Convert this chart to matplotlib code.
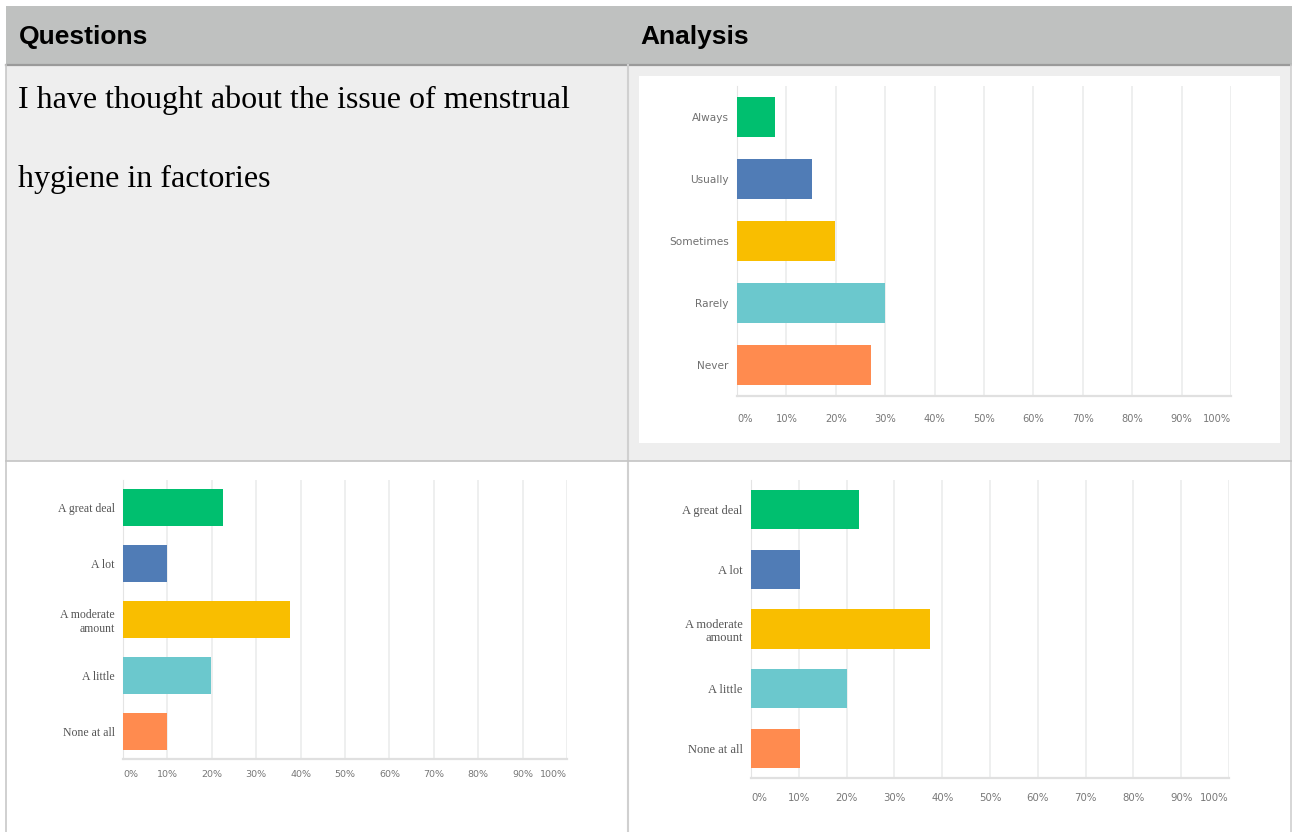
import matplotlib
matplotlib.use("Agg")
import matplotlib.pyplot as plt
from matplotlib.patches import Rectangle

# Survey data (percent of respondents)
freq_labels = ["Always", "Usually", "Sometimes", "Rarely", "Never"]
freq_values = [7.6, 15.2, 19.8, 29.9, 27.2]

amount_labels = ["A great deal", "A lot", "A moderate\namount", "A little", "None at all"]
amount_values_left = [22.5, 9.9, 37.6, 19.8, 9.9]
amount_values_right = [22.5, 10.2, 37.5, 20.0, 10.2]

bar_colors = ["#00BF6F", "#507CB6", "#F9BE00", "#6BC8CD", "#FF8B4F"]
tick_values = list(range(0, 101, 10))
tick_labels = [f"{t}%" for t in tick_values]

W, H = 1292, 832
fig = plt.figure(figsize=(W / 100, H / 100), dpi=100)
fig.patch.set_facecolor("white")

# background "table" drawn in pixel coordinates
bg = fig.add_axes([0, 0, 1, 1])
bg.set_xlim(0, W)
bg.set_ylim(H, 0)
bg.axis("off")

bg.add_patch(Rectangle((6, 6), W - 6, 58, facecolor="#BFC1C0", edgecolor="none"))
bg.add_patch(Rectangle((6, 65), W - 7, 396, facecolor="#EEEEEE", edgecolor="none"))
bg.add_patch(Rectangle((639, 76), 641, 367, facecolor="white", edgecolor="none"))
bg.plot([6, W], [64.5, 64.5], color="#9A9A9A", lw=1.6)
bg.plot([6, 6], [65, H], color="#C8C8C8", lw=1.2)
bg.plot([628, 628], [65, H], color="#D0D0D0", lw=1.5)
bg.plot([1290.5, 1290.5], [65, H], color="#D0D0D0", lw=1.2)
bg.plot([6, W], [461, 461], color="#C4C4C4", lw=1.2)

bg.text(19, 44, "Questions", fontsize=19, fontweight="bold", family="Liberation Sans",
        va="baseline", ha="left", color="black")
bg.text(640, 44, "Analysis", fontsize=19, fontweight="bold", family="Liberation Sans",
        va="baseline", ha="left", color="black")
bg.text(18, 108, "I have thought about the issue of menstrual", fontsize=23,
        family="Liberation Serif", va="baseline", ha="left", color="black")
bg.text(18, 187, "hygiene in factories", fontsize=23,
        family="Liberation Serif", va="baseline", ha="left", color="black")


def px_axes(x0, x1, y0, y1):
    return fig.add_axes([x0 / W, 1 - y1 / H, (x1 - x0) / W, (y1 - y0) / H])


def bar_chart(ax, labels, values, ylab_size, ylab_family, ylab_color, xlab_size, xpad):
    ax.set_facecolor("none")
    ax.barh(range(len(values)), values, height=0.66, color=bar_colors, zorder=3)
    ax.set_xlim(0, 100)
    ax.set_ylim(len(values) - 0.5, -0.5)
    ax.set_xticks(tick_values)
    ax.set_xticklabels(tick_labels, fontsize=xlab_size, color="#777777")
    lbls = ax.get_xticklabels()
    lbls[0].set_ha("left")
    lbls[-1].set_ha("right")
    ax.set_yticks(range(len(labels)))
    ax.set_yticklabels(labels, fontsize=ylab_size, family=ylab_family, color=ylab_color)
    ax.tick_params(axis="x", length=0, pad=xpad)
    ax.tick_params(axis="y", length=0, pad=6)
    ax.grid(axis="x", color="#EEEFEF", lw=1.4, zorder=0)
    for s in ["top", "right"]:
        ax.spines[s].set_visible(False)
    ax.spines["left"].set_color("#E4E4E4")
    ax.spines["bottom"].set_color("#E0E0E0")
    ax.spines["bottom"].set_linewidth(1.6)


ax1 = px_axes(737, 1231, 86, 396)
bar_chart(ax1, freq_labels, freq_values, 7.6, "DejaVu Sans", "#707070", 7.1, 13)

ax2 = px_axes(123, 567, 480, 759)
bar_chart(ax2, amount_labels, amount_values_left, 8.5, "Liberation Serif", "#555555", 6.8, 8)

ax3 = px_axes(751, 1229, 480, 778)
bar_chart(ax3, amount_labels, amount_values_right, 9, "Liberation Serif", "#555555", 7.3, 11)

fig.savefig("out.png", dpi=100)
